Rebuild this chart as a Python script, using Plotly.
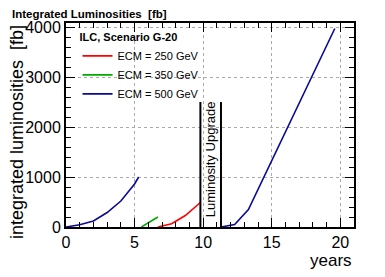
import plotly.graph_objects as go

# data
ecm250_years = [6.7, 7.7, 8.7, 9.8]
ecm250_lumi = [0, 65, 230, 490]
ecm350_years = [5.5, 6.7]
ecm350_lumi = [0, 200]
ecm500a_years = [0, 1, 2, 3, 4, 5, 5.3]
ecm500a_lumi = [0, 45, 120, 290, 520, 860, 1000]
ecm500b_years = [11.3, 12.3, 13.3, 14.3, 15.3, 16.3, 17.3, 18.3, 19.6]
ecm500b_lumi = [0, 50, 350, 920, 1490, 2060, 2630, 3200, 3970]
upgrade_years = [9.8, 11.3]
upgrade_height = 2500
upgrade_label = "Luminosity Upgrade"

FONT = "Liberation Sans, Arial, sans-serif"
fig = go.Figure()

fig.add_trace(go.Scatter(x=ecm250_years, y=ecm250_lumi, mode="lines",
                         line=dict(color="#ff0000", width=1.6), name="ECM = 250 GeV"))
fig.add_trace(go.Scatter(x=ecm350_years, y=ecm350_lumi, mode="lines",
                         line=dict(color="#00aa00", width=1.6), name="ECM = 350 GeV"))
fig.add_trace(go.Scatter(x=ecm500a_years, y=ecm500a_lumi, mode="lines",
                         line=dict(color="#0a0a96", width=1.6), name="ECM = 500 GeV",
                         legendgroup="500"))
fig.add_trace(go.Scatter(x=ecm500b_years, y=ecm500b_lumi, mode="lines",
                         line=dict(color="#0a0a96", width=1.6), name="ECM = 500 GeV",
                         legendgroup="500", showlegend=False))
for ux in upgrade_years:
    fig.add_trace(go.Scatter(x=[ux, ux], y=[0, upgrade_height], mode="lines",
                             line=dict(color="black", width=2), showlegend=False,
                             hoverinfo="skip"))

fig.add_annotation(x=sum(upgrade_years) / 2, y=upgrade_height / 2 + 100,
                   text=upgrade_label, textangle=-90, showarrow=False,
                   font=dict(family=FONT, size=13, color="black"))

fig.add_annotation(xref="paper", yref="paper", x=1.0, y=-0.166, xanchor="right",
                   yanchor="middle", text="years", showarrow=False,
                   font=dict(family=FONT, size=17, color="black"))
fig.add_annotation(xref="paper", yref="paper", x=-0.17, y=1.0, xanchor="center",
                   yanchor="top", text="integrated luminosities  [fb]",
                   textangle=-90, showarrow=False,
                   font=dict(family=FONT, size=18, color="black"))
fig.add_annotation(xref="paper", yref="paper", x=-0.194, y=1.044, xanchor="left",
                   yanchor="middle", text="<b>Integrated Luminosities  [fb]</b>",
                   showarrow=False, font=dict(family=FONT, size=11.5, color="black"))

axis_common = dict(showline=True, linecolor="black", linewidth=2, mirror="allticks",
                   ticks="inside", tickcolor="black", tickwidth=1,
                   showgrid=True, gridcolor="#aaaaaa", griddash="dot", gridwidth=1,
                   zeroline=False, tickfont=dict(family=FONT, size=16, color="black"))

fig.update_xaxes(range=[0, 21], tickvals=[0, 5, 10, 15, 20], ticklen=9,
                 minor=dict(dtick=1, ticks="inside", ticklen=5, tickcolor="black",
                            showgrid=False),
                 **axis_common)
fig.update_yaxes(range=[0, 4080], tickvals=[0, 1000, 2000, 3000, 4000], ticklen=9,
                 minor=dict(dtick=200, ticks="inside", ticklen=5, tickcolor="black",
                            showgrid=False),
                 **axis_common)

fig.update_layout(
    width=385, height=277,
    margin=dict(l=66, r=31, t=23, b=50),
    paper_bgcolor="white", plot_bgcolor="white",
    showlegend=True,
    legend=dict(x=0.04, y=0.98, xanchor="left", yanchor="top",
                bgcolor="rgba(255,255,255,0)", borderwidth=0,
                title=dict(text="<b>ILC, Scenario G-20</b>",
                           font=dict(family=FONT, size=11, color="black")),
                font=dict(family=FONT, size=11, color="black"),
                itemwidth=30, tracegroupgap=0),
)

fig.write_html("out.html", config={"displayModeBar": False},
               post_script="document.body.style.margin='0';document.body.style.overflow='hidden';")
